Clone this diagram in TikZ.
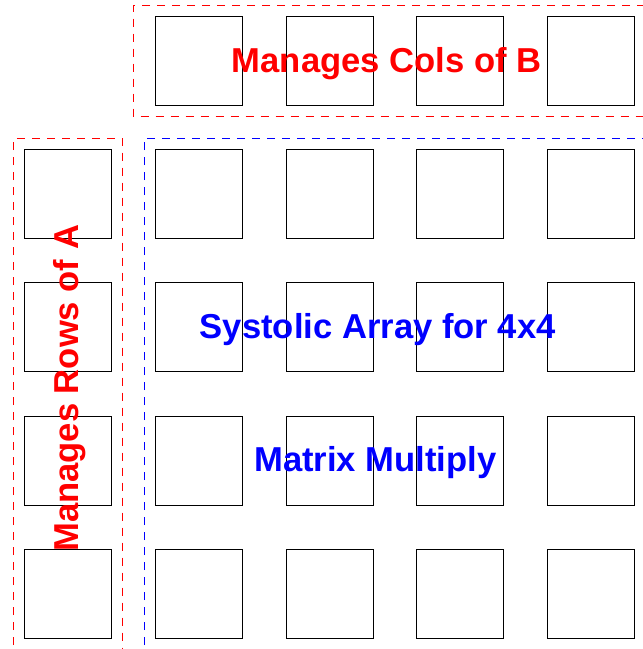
\documentclass[tikz,border=0pt]{standalone}
\usepackage{fontspec}
\setmainfont{Liberation Sans}
\begin{document}
\begin{tikzpicture}[x=1pt,y=-1pt,
  cell/.style={draw=black,line width=0.9pt,minimum width=87pt,minimum height=89pt,inner sep=0pt,outer sep=0pt},
  redbox/.style={draw=red,line width=0.9pt,dash pattern=on 8pt off 7pt},
  bluebox/.style={draw=blue,line width=0.9pt,dash pattern=on 8pt off 7pt},
  lbl/.style={font=\fontsize{34.6}{40}\selectfont\bfseries,inner sep=0pt,anchor=base}]
\useasboundingbox (0,0) rectangle (643,649);
\clip (0,0) rectangle (643,649);
% dashed regions
\draw[redbox] (660,5.3) -- (133.3,5.3) -- (133.3,116.3) -- (660,116.3);
\draw[redbox] (13.7,660) -- (13.7,138.3) -- (122.7,138.3) -- (122.7,660);
\draw[bluebox] (144,660) -- (144,138.3) -- (660,138.3);
% top row (columns of B)
\foreach \c/\x in {1/198.5,2/329.5,3/459.5,4/590.5}
  \node[cell] (b\c) at (\x,60.8) {};
% left column (rows of A)
\foreach \r/\y in {1/193.8,2/327.3,3/460.8,4/594}
  \node[cell] (a\r) at (67.5,\y) {};
% array
\foreach \r/\y in {1/193.8,2/327.3,3/460.8,4/594}
  \foreach \c/\x in {1/198.5,2/329.5,3/459.5,4/590.5}
    \node[cell] (p\r\c) at (\x,\y) {};
% labels
\node[lbl,text=red] (tcols) at (386.7,72.3) {Manages Cols of B};
\node[lbl,text=blue] (tsys) at (377.8,338.3) {Systolic Array for 4x4};
\node[lbl,text=blue] (tmat) at (375.3,471.7) {Matrix Multiply};
\node[lbl,text=red,rotate=90] (trows) at (78.3,388.3) {Manages Rows of A};
\end{tikzpicture}
\end{document}
